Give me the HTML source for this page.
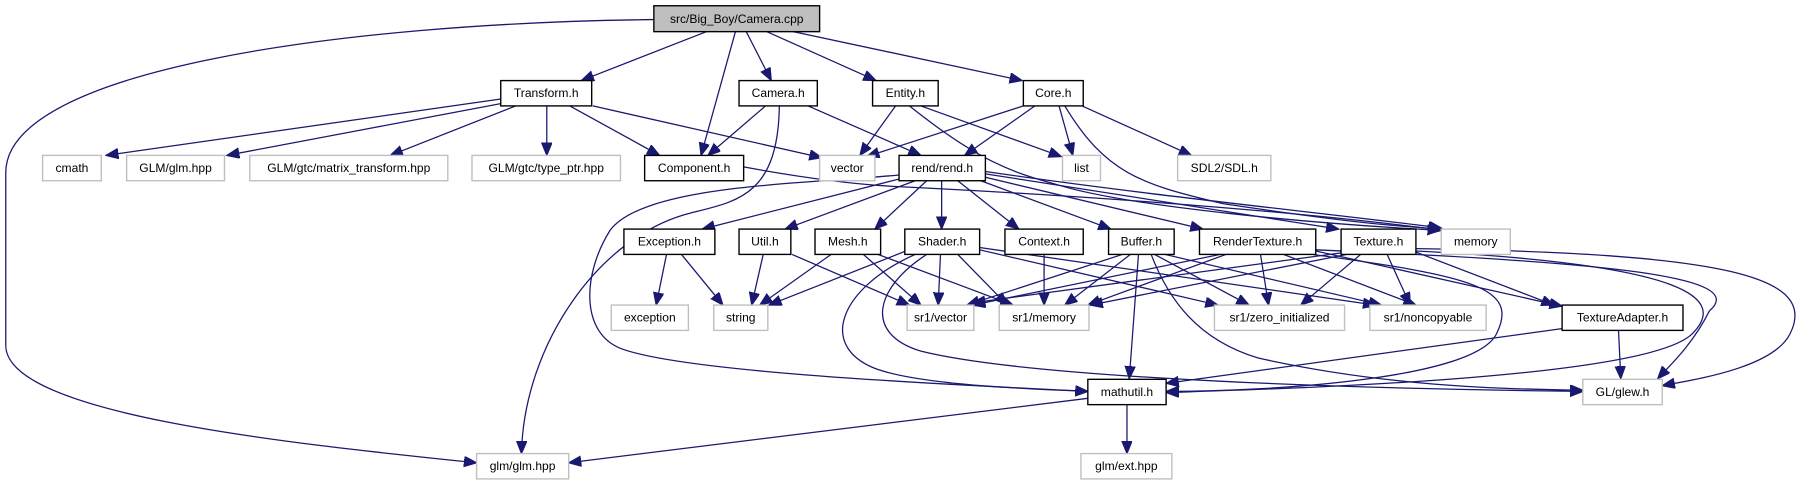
<!DOCTYPE html>
<html><head><meta charset="utf-8"><style>
html,body{margin:0;padding:0;background:#fff;width:1805px;height:485px;overflow:hidden}
svg{display:block}
text{font-family:"Liberation Sans Narrow","Liberation Sans",sans-serif;font-size:10.5px;fill:#000;text-anchor:middle;dominant-baseline:central}
.e{fill:none;stroke:#191970;stroke-width:1.1;marker-end:url(#a)}
.b{fill:#fff;stroke:#000;stroke-width:1.2}
.g{fill:#fff;stroke:#bfbfbf;stroke-width:1.2}
</style></head><body>
<svg width="1805" height="485" viewBox="0 0 1568 421.3" preserveAspectRatio="none" xmlns="http://www.w3.org/2000/svg">
<defs><marker id="a" markerUnits="userSpaceOnUse" markerWidth="12" markerHeight="10" refX="11" refY="4.5" orient="auto"><path d="M0,0 L11,4.5 L0,9 Z" fill="#191970" stroke="#191970"/></marker></defs>
<path class="e" d="M615,27 L505,70"/>
<path class="e" d="M639,27 L609,135"/>
<path class="e" d="M648,27 L670,70"/>
<path class="e" d="M665,27 L761,70"/>
<path class="e" d="M687,27 L888,70"/>
<path class="e" d="M568,17 C300,20 5,60 5,150 L5,300 C5,360 250,385 414,402"/>
<path class="e" d="M435,86 L92,135"/>
<path class="e" d="M435,90 L197,135"/>
<path class="e" d="M448,92 L339,135"/>
<path class="e" d="M475,92 L475,135"/>
<path class="e" d="M495,92 L573,135"/>
<path class="e" d="M515,92 L714,137"/>
<path class="e" d="M665,92 L615,135"/>
<path class="e" d="M677,92 C676,170 640,175 600,185 C520,205 455,300 453,394"/>
<path class="e" d="M702,92 L800,135"/>
<path class="e" d="M778,92 L747,135"/>
<path class="e" d="M800,92 L922,136"/>
<path class="e" d="M790,92 C850,140 880,150 917,160 C980,180 1150,195 1251,200"/>
<path class="e" d="M889,92 L753,136"/>
<path class="e" d="M899,92 L838,135"/>
<path class="e" d="M920,92 L932,135"/>
<path class="e" d="M940,92 L1035,135"/>
<path class="e" d="M925,92 C960,150 990,160 1063,177 C1150,190 1200,196 1253,199"/>
<path class="e" d="M646,145 C700,155 740,160 778,162 C900,168 1100,180 1253,200"/>
<path class="e" d="M783,155 L610,199"/>
<path class="e" d="M795,157 L682,199"/>
<path class="e" d="M805,157 L760,199"/>
<path class="e" d="M818,157 L818,199"/>
<path class="e" d="M832,157 L885,199"/>
<path class="e" d="M852,157 L965,199"/>
<path class="e" d="M856,154 L1045,199"/>
<path class="e" d="M856,151 L1163,199"/>
<path class="e" d="M856,149 C1000,170 1150,185 1252,198"/>
<path class="e" d="M781,152 C700,160 560,160 530,200 C505,240 505,290 540,303 C600,325 850,335 945,340"/>
<path class="e" d="M579,221 L570,265"/>
<path class="e" d="M592,221 L628,265"/>
<path class="e" d="M663,221 L653,265"/>
<path class="e" d="M688,221 L790,265"/>
<path class="e" d="M722,221 L660,265"/>
<path class="e" d="M750,221 L800,265"/>
<path class="e" d="M760,220 L880,265"/>
<path class="e" d="M787,218 L668,265"/>
<path class="e" d="M817,221 L815,265"/>
<path class="e" d="M832,221 L875,265"/>
<path class="e" d="M851,217 L1058,265"/>
<path class="e" d="M851,215 L1195,265"/>
<path class="e" d="M795,221 C730,250 710,300 760,320 C800,335 900,338 945,340"/>
<path class="e" d="M805,221 C760,250 750,290 800,305 C900,330 1200,338 1375,340"/>
<path class="e" d="M907,221 L907,265"/>
<path class="e" d="M975,221 L840,265"/>
<path class="e" d="M982,221 L925,265"/>
<path class="e" d="M989,221 L981,329"/>
<path class="e" d="M1003,221 L1085,265"/>
<path class="e" d="M1012,221 L1200,265"/>
<path class="e" d="M1000,221 C1015,260 1040,295 1093,311 C1200,335 1300,338 1375,339"/>
<path class="e" d="M1060,221 L845,265"/>
<path class="e" d="M1065,221 L945,265"/>
<path class="e" d="M1095,221 L1102,265"/>
<path class="e" d="M1115,221 L1230,265"/>
<path class="e" d="M1140,221 C1280,240 1320,250 1300,290 C1280,330 1100,340 1013,340"/>
<path class="e" d="M1143,218 L1357,266"/>
<path class="e" d="M1143,217 C1400,228 1520,240 1485,270 C1470,300 1450,318 1440,329"/>
<path class="e" d="M1170,219 L845,263"/>
<path class="e" d="M1170,221 L947,265"/>
<path class="e" d="M1182,221 L1130,265"/>
<path class="e" d="M1205,221 L1225,265"/>
<path class="e" d="M1230,219 L1350,265"/>
<path class="e" d="M1230,218 C1470,230 1500,260 1470,290 C1430,330 1100,338 1013,341"/>
<path class="e" d="M1230,216 C1500,220 1580,240 1555,290 C1540,320 1470,330 1444,335"/>
<path class="e" d="M1360,285 L1013,333"/>
<path class="e" d="M1406,287 L1408,329"/>
<path class="e" d="M945,346 L494,402"/>
<path class="e" d="M979,352 L979,394"/>
<rect x="568" y="5" width="144" height="22.5" fill="#bfbfbf" stroke="#000" stroke-width="1.2"/><text x="640" y="16.5">src/Big_Boy/Camera.cpp</text>
<rect class="b" x="435" y="70" width="79" height="22"/><text x="474.5" y="81">Transform.h</text>
<rect class="b" x="642" y="70" width="68" height="22"/><text x="676" y="81">Camera.h</text>
<rect class="b" x="758" y="70" width="57" height="22"/><text x="786.5" y="81">Entity.h</text>
<rect class="b" x="889" y="70" width="52" height="22"/><text x="915" y="81">Core.h</text>
<rect class="g" x="37" y="135" width="51" height="22"/><text x="62.5" y="146">cmath</text>
<rect class="g" x="110" y="135" width="85" height="22"/><text x="152.5" y="146">GLM/glm.hpp</text>
<rect class="g" x="217" y="135" width="172" height="22"/><text x="303" y="146">GLM/gtc/matrix_transform.hpp</text>
<rect class="g" x="410" y="135" width="129" height="22"/><text x="474.5" y="146">GLM/gtc/type_ptr.hpp</text>
<rect class="b" x="560" y="135" width="86" height="22"/><text x="603" y="146">Component.h</text>
<rect class="g" x="712" y="135" width="48" height="22"/><text x="736" y="146">vector</text>
<rect class="b" x="781" y="135" width="75" height="22"/><text x="818.5" y="146">rend/rend.h</text>
<rect class="g" x="923" y="135" width="33" height="22"/><text x="939.5" y="146">list</text>
<rect class="g" x="1023" y="135" width="81" height="22"/><text x="1063.5" y="146">SDL2/SDL.h</text>
<rect class="b" x="542" y="199" width="79" height="22"/><text x="581.5" y="210">Exception.h</text>
<rect class="b" x="642" y="199" width="45" height="22"/><text x="664.5" y="210">Util.h</text>
<rect class="b" x="708" y="199" width="57" height="22"/><text x="736.5" y="210">Mesh.h</text>
<rect class="b" x="786" y="199" width="65" height="22"/><text x="818.5" y="210">Shader.h</text>
<rect class="b" x="873" y="199" width="68" height="22"/><text x="907" y="210">Context.h</text>
<rect class="b" x="963" y="199" width="57" height="22"/><text x="991.5" y="210">Buffer.h</text>
<rect class="b" x="1042" y="199" width="101" height="22"/><text x="1092.5" y="210">RenderTexture.h</text>
<rect class="b" x="1165" y="199" width="65" height="22"/><text x="1197.5" y="210">Texture.h</text>
<rect class="g" x="1252" y="199" width="60" height="22"/><text x="1282" y="210">memory</text>
<rect class="g" x="531" y="265" width="67" height="22"/><text x="564.5" y="276">exception</text>
<rect class="g" x="620" y="265" width="47" height="22"/><text x="643.5" y="276">string</text>
<rect class="g" x="788" y="265" width="58" height="22"/><text x="817" y="276">sr1/vector</text>
<rect class="g" x="868" y="265" width="78" height="22"/><text x="907" y="276">sr1/memory</text>
<rect class="g" x="1055" y="265" width="113" height="22"/><text x="1111.5" y="276">sr1/zero_initialized</text>
<rect class="g" x="1190" y="265" width="101" height="22"/><text x="1240.5" y="276">sr1/noncopyable</text>
<rect class="b" x="1357" y="265" width="105" height="22"/><text x="1409.5" y="276">TextureAdapter.h</text>
<rect class="b" x="945" y="329.5" width="68" height="22"/><text x="979" y="340.5">mathutil.h</text>
<rect class="g" x="1375" y="329.5" width="69" height="22"/><text x="1409.5" y="340.5">GL/glew.h</text>
<rect class="g" x="414" y="394" width="80" height="22"/><text x="454" y="405">glm/glm.hpp</text>
<rect class="g" x="939" y="394" width="79" height="22"/><text x="978.5" y="405">glm/ext.hpp</text>
</svg>
</body></html>
